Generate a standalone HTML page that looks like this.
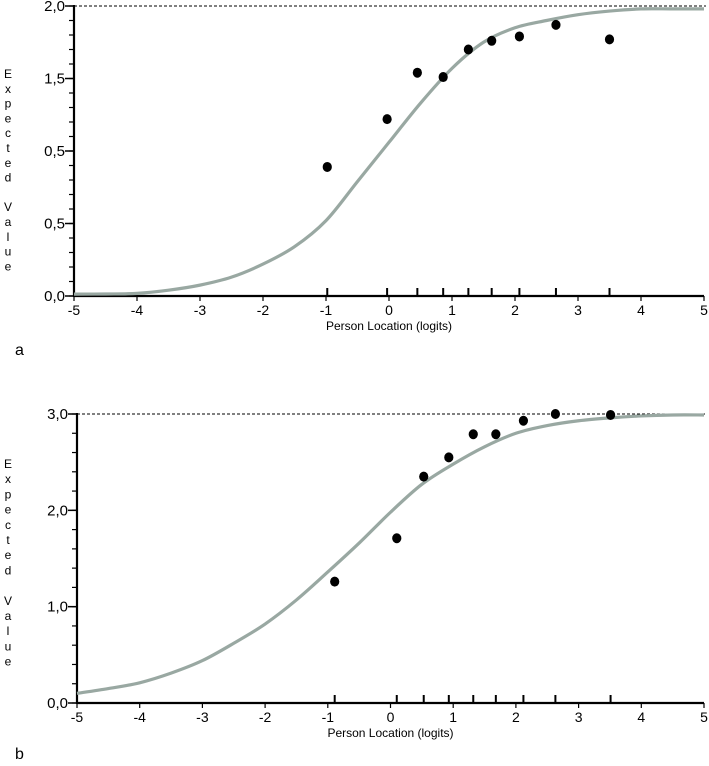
<!DOCTYPE html>
<html><head><meta charset="utf-8"><style>
body{margin:0;background:#fff}
svg{display:block;font-family:"Liberation Sans",Arial,sans-serif}
</style></head><body>
<svg id="s" width="709" height="766" viewBox="0 0 709 766"></svg>
<script>
// Panel a data
const aCurveX=[-5,-4.5,-4,-3.5,-3,-2.5,-2,-1.5,-1,-0.5,0,0.5,1,1.5,2,2.5,3,3.5,4,4.5,5];
const aCurveY=[0.013,0.014,0.018,0.04,0.075,0.13,0.22,0.34,0.52,0.79,1.06,1.33,1.57,1.75,1.85,1.90,1.94,1.965,1.98,1.98,1.98];
const aDotX=[-0.98,-0.03,0.45,0.86,1.26,1.63,2.07,2.65,3.5];
const aDotY=[0.89,1.22,1.54,1.51,1.70,1.76,1.79,1.87,1.77];
const aYTickVals=[0,0.5,1,1.5,2];
const aYTickLabels=["0,0","0,5","0,5","1,5","2,0"];
// Panel b data
const bCurveX=[-5,-4.5,-4,-3.5,-3,-2.5,-2,-1.5,-1,-0.5,0,0.5,1,1.5,2,2.5,3,3.5,4,4.5,5];
const bCurveY=[0.10,0.15,0.21,0.31,0.44,0.62,0.82,1.07,1.36,1.66,1.98,2.27,2.48,2.66,2.80,2.88,2.93,2.96,2.98,2.99,2.99];
const bDotX=[-0.89,0.10,0.53,0.93,1.32,1.68,2.12,2.63,3.51];
const bDotY=[1.26,1.71,2.35,2.55,2.79,2.79,2.93,3.0,2.99];
const bYTickVals=[0,1,2,3];
const bYTickLabels=["0,0","1,0","2,0","3,0"];
const xTickVals=[-5,-4,-3,-2,-1,0,1,2,3,4,5];

const NS="http://www.w3.org/2000/svg";
const svg=document.getElementById('s');
function mk(tag,attrs,parent){const e=document.createElementNS(NS,tag);for(const k in attrs)e.setAttribute(k,attrs[k]);(parent||svg).appendChild(e);return e;}

function panel(p){
  const g=mk('g',{});
  
  
  const sx=v=>p.x0+(v+5)/10*(p.x1-p.x0);
  const sy=v=>p.y0-v/p.ymax*(p.y0-p.y1);
  const d=mk('line',{x1:sx(-5),x2:706,y1:sy(p.ymax),y2:sy(p.ymax),stroke:'#000','stroke-width':1,'stroke-dasharray':'3,2'},g);
  
  
  for(let i=0;i<=Math.round(p.ymax/p.minor);i++){
    const v=i*p.minor;
    const t=mk('line',{x1:sx(-5)-5,x2:sx(-5),y1:sy(v),y2:sy(v),stroke:'#000','stroke-width':1.2},g);
    
    
  }
  p.yv.forEach((v,i)=>{
    const t=mk('line',{x1:sx(-5)-9,x2:sx(-5),y1:sy(v),y2:sy(v),stroke:'#000','stroke-width':1.5},g);
    
    
    const l=mk('text',{x:sx(-5)-9,y:sy(v)+5,'text-anchor':'end','font-size':15},g);
    l.textContent=p.yl[i];
    
    
  });
  const ya=mk('line',{x1:sx(-5),x2:sx(-5),y1:p.y1-1,y2:p.y0+1,stroke:'#000','stroke-width':2.2},g);
  
  
  const xa=mk('line',{x1:sx(-5),x2:sx(5),y1:p.y0,y2:p.y0,stroke:'#000','stroke-width':2.2},g);
  
  
  xTickVals.forEach(v=>{
    const t=mk('line',{x1:sx(v),x2:sx(v),y1:p.y0,y2:p.y0+5,stroke:'#000','stroke-width':1.2},g);
    
    
    const l=mk('text',{x:sx(v),y:p.y0+19,'text-anchor':'middle','font-size':14},g);
    l.textContent=String(v);
    
    
  });
  p.dx.forEach(v=>{
    const t=mk('line',{x1:sx(v),x2:sx(v),y1:p.y0-8,y2:p.y0,stroke:'#000','stroke-width':2},g);
    
    
  });
  const pts=p.cx.map((v,i)=>[sx(v),sy(p.cy[i])]);
  let dd='M'+pts[0][0]+','+pts[0][1];
  for(let i=0;i<pts.length-1;i++){
    const p0=pts[Math.max(0,i-1)],p1=pts[i],p2=pts[i+1],p3=pts[Math.min(pts.length-1,i+2)];
    const c1=[p1[0]+(p2[0]-p0[0])/6,p1[1]+(p2[1]-p0[1])/6];
    const c2=[p2[0]-(p3[0]-p1[0])/6,p2[1]-(p3[1]-p1[1])/6];
    dd+=` C${c1[0]},${c1[1]} ${c2[0]},${c2[1]} ${p2[0]},${p2[1]}`;
  }
  const c=mk('path',{d:dd,fill:'none',stroke:'#99a8a2','stroke-width':3.2},g);
  
  
  p.dx.forEach((v,i)=>{
    const e=mk('ellipse',{cx:sx(v),cy:sy(p.dy[i]),rx:4.6,ry:5,fill:'#000'},g);
    
    
  });
  const xt=mk('text',{x:(sx(-5)+sx(5))/2,y:p.y0+34,'text-anchor':'middle','font-size':12},g);
  xt.textContent='Person Location (logits)';
  
  
  const yt=mk('text',{x:8,'text-anchor':'middle','font-size':12},g);
  
  
  const letters=['E','x','p','e','c','t','e','d','','V','a','l','u','e'];
  letters.forEach((ch,i)=>{const ts=mk('tspan',{x:8,y:p.ty+i*p.tstep},yt);ts.textContent=ch||'\u00a0';});
  const pl=mk('text',{x:15,y:p.y0+p.lblOff,'font-size':16},g);
  pl.textContent=p.label;
  
  
}
panel({name:'panel-a',x0:74,x1:704,y0:296,y1:6,ymax:2,minor:0.1,yv:aYTickVals,yl:aYTickLabels,cx:aCurveX,cy:aCurveY,dx:aDotX,dy:aDotY,ty:78,tstep:14.8,label:'a',lblOff:59});
panel({name:'panel-b',x0:77,x1:704,y0:703,y1:414,ymax:3,minor:0.2,yv:bYTickVals,yl:bYTickLabels,cx:bCurveX,cy:bCurveY,dx:bDotX,dy:bDotY,ty:468,tstep:15.2,label:'b',lblOff:56});
</script>
</body></html>
